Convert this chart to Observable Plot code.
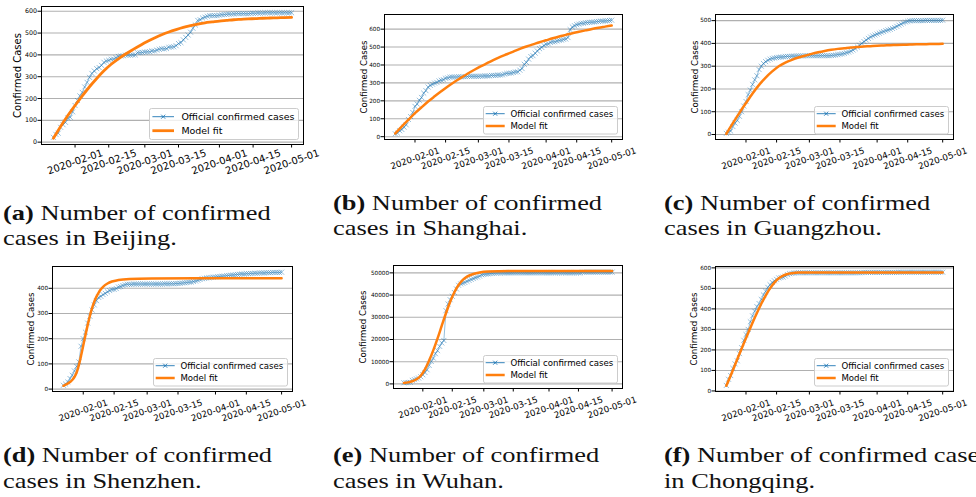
<!DOCTYPE html>
<html><head><meta charset="utf-8">
<script src="https://cdn.jsdelivr.net/npm/d3@7"></script>
<script src="https://cdn.jsdelivr.net/npm/@observablehq/plot@0.6"></script>
<style>
html,body{margin:0;padding:0;background:#fff;}
#page{position:relative;width:976px;height:497px;overflow:hidden;background:#fff;}
.cap{position:absolute;font-family:"Liberation Serif",serif;font-size:22px;line-height:25.5px;white-space:nowrap;transform:scaleX(1.2);transform-origin:0 0;color:#111;}
.cap b{font-weight:bold;}
</style></head><body><div id="page"></div>
<script>
// ---- categories ----
const startDay = "2020-01-23";
const endDay = "2020-05-01";
const xTickLabels = ["2020-02-01","2020-02-15","2020-03-01","2020-03-15","2020-04-01","2020-04-15","2020-05-01"];
const seriesNames = ["Official confirmed cases", "Model fit"];

// ---- official confirmed cases (daily, 2020-01-23 .. 2020-05-01) ----
const beijingOfficial = [22,36,41,68,80,91,111,114,139,
 168,191,212,228,253,274,297,315,326,337,342,352,366,372,375,380,381,387,393,395,396,399,399,399,400,400,410,410,411,
 413,414,414,418,418,422,426,428,428,429,435,436,437,442,452,456,469,480,491,504,522,537,558,561,569,573,577,580,580,580,580,
 582,584,585,586,587,587,588,589,589,589,589,589,589,590,591,591,592,592,592,593,593,593,593,593,593,593,593,593,593,593,
 593];
const shanghaiOfficial = [16,20,33,40,53,66,96,112,135,
 169,182,203,219,243,257,277,286,293,299,303,311,315,318,326,328,332,333,333,333,334,334,335,335,336,337,337,337,337,
 337,338,338,339,339,339,342,342,342,344,344,345,350,353,353,355,358,361,362,371,380,404,414,433,447,452,466,478,491,498,509,
 516,518,526,529,530,534,537,539,543,545,553,597,612,619,625,628,632,633,636,637,638,639,640,642,643,645,645,646,647,648,
 650];
const guangzhouOfficial = [5,10,15,35,50,62,80,100,125,
 145,175,195,220,240,258,285,300,312,320,326,331,334,336,338,339,340,341,342,343,343,344,344,345,345,345,345,346,346,
 346,346,346,346,346,346,346,346,346,346,347,348,349,351,352,354,356,359,362,366,371,377,384,392,400,408,415,422,428,433,437,
 441,445,449,452,456,459,462,466,470,475,480,485,490,494,497,499,500,500,500,500,500,500,501,501,501,501,501,501,501,501,
 502];
const shenzhenOfficial = [15,20,28,42,55,72,90,108,170,
 200,226,262,289,314,334,351,364,368,375,380,386,391,395,396,399,405,407,411,414,416,416,416,417,417,417,417,417,417,
 417,417,417,417,417,417,417,417,418,418,418,418,418,419,419,420,421,422,423,424,425,427,429,432,435,438,440,441,442,443,444,
 445,446,447,448,449,450,451,452,453,454,455,456,457,457,458,458,459,459,460,460,461,461,461,462,462,462,463,463,463,463,
 464];
const wuhanOfficial = [495,572,618,698,1590,1905,2261,2639,3215,
 4109,5142,6384,8351,10117,11618,13603,14982,16902,18454,19558,32994,35991,37914,39462,41152,42752,44412,45027,45346,45660,46201,46607,47071,47441,47824,48137,48557,49122,
 49315,49426,49540,49671,49797,49871,49912,49948,49965,49978,49986,49991,49995,49999,50003,50004,50005,50005,50005,50005,50005,50006,50006,50006,50006,50006,50006,50006,50006,50006,50007,
 50007,50007,50007,50007,50007,50007,50007,50007,50007,50007,50007,50007,50007,50007,50007,50007,50333,50333,50333,50333,50333,50333,50333,50333,50333,50333,50333,50333,50333,50333,
 50333];
const chongqingOfficial = [27,57,75,110,132,147,182,211,247,
 275,300,337,366,389,411,426,446,468,486,505,518,529,537,544,551,553,555,560,567,572,573,575,576,576,576,576,576,576,
 576,576,576,576,576,576,576,576,576,576,576,576,576,576,576,576,576,576,576,576,576,576,576,576,577,578,578,578,578,578,578,
 578,578,578,578,578,578,578,578,578,578,579,579,579,579,579,579,579,579,579,579,579,579,579,579,579,579,579,579,579,579,
 579];

// ---- model fit (day offset from 2020-01-23, value) ----
const beijingFitDays = [0,3,6,9,12,15,18,21,24,27,30,33,36,39,42,45,48,51,54,57,60,63,66,69,72,75,78,81,84,87,90,93,96,99];
const beijingFit = [18,72,122,168,212,254,292,327,357,382,404,424,443,461,477,492,505,516,526,534,541,547,551,555,558,561,563,565,566,568,569,570,571,572];
const shanghaiFitDays = [0,3,6,9,12,15,18,21,24,27,30,33,36,39,42,45,48,51,54,57,60,63,66,69,72,75,78,81,84,87,90,93,96,99];
const shanghaiFit = [18,58,95,131,164,196,225,253,280,305,328,351,372,392,410,428,445,460,475,490,503,515,527,538,549,559,568,577,585,593,601,608,614,620];
const guangzhouFitDays = [0,3,6,9,12,15,18,21,24,27,30,33,36,39,42,45,48,51,54,57,60,63,66,69,72,75,78,81,84,87,90,93,96,99];
const guangzhouFit = [3,50,95,138,180,218,250,277,300,316,328,338,346,354,361,367,372,376,379,382,384,386,388,390,391,392,393,394,395,396,396,397,397,398];
const shenzhenFitDays = [0,2,4,5,6,7,8,9,10,11,12,13,14,15,16,17,18,20,22,25,30,40,60,99];
const shenzhenFit = [13,22,36,48,66,95,132,173,214,254,290,321,347,367,383,396,406,419,427,433,437,439,440,440];
const wuhanFitDays = [0,2,4,6,8,10,12,14,16,18,20,22,24,26,28,30,33,36,40,50,70,99];
const wuhanFit = [450,700,1200,2100,3700,6500,10500,15200,20500,26200,31800,37000,41300,44500,46800,48300,49500,50200,50600,50800,50800,50800];
const chongqingFitDays = [0,2,4,6,8,10,12,14,16,18,20,22,24,26,28,30,33,40,60,99];
const chongqingFit = [25,75,128,180,232,283,333,380,425,465,500,528,549,562,570,574,577,578,578,578];

// ---- y tick labels ----
const yTicks600 = [0,100,200,300,400,500,600];
const yTicks500 = [0,100,200,300,400,500];
const yTicks400 = [0,100,200,300,400];
const yTicksWuhan = [0,10000,20000,30000,40000,50000];

// ---- captions ----
const captionLabels = ["(a)","(b)","(c)","(d)","(e)","(f)"];
const captionLines = [
  ["Number of confirmed","cases in Beijing."],
  ["Number of confirmed","cases in Shanghai."],
  ["Number of confirmed","cases in Guangzhou."],
  ["Number of confirmed","cases in Shenzhen."],
  ["Number of confirmed","cases in Wuhan."],
  ["Number of confirmed cases","in Chongqing."]
];

// ---- build ----
const parse = d3.utcParse("%Y-%m-%d");
const fmtDate = d3.utcFormat("%Y-%m-%d");
const t0 = parse(startDay), t1 = parse(endDay);
const dates = d3.utcDay.range(t0, d3.utcDay.offset(t1, 1));
const xTicks = xTickLabels.map(parse);

const legendBig = {w:150, h:32, r1:8.7, r2:22.7, h0:3.4, h1:25, tx:32.4, fs:9.45};
const legendStd = {w:135, h:28.5, r1:7.7, r2:20, h0:2.7, h1:21.7, tx:27.4, fs:8.6};

const panels = [
  {official: beijingOfficial, fitDays: beijingFitDays, fit: beijingFit, yTicks: yTicks600,
   cell:[0,0,325,185], frame:[41,303,6,144], ylabX:17, yfs:6.3, xfs:10, xdy:17.5, labfs:10, lw:2.8, leg:legendBig,
   cap:[3,199.8]},
  {official: shanghaiOfficial, fitDays: shanghaiFitDays, fit: shanghaiFit, yTicks: yTicks600,
   cell:[325,0,330,185], frame:[384,622,14,139], ylabX:363.5, yfs:5.7, xfs:8.8, xdy:19, labfs:8.6, lw:2.5, leg:legendStd,
   cap:[333,189.8]},
  {official: guangzhouOfficial, fitDays: guangzhouFitDays, fit: guangzhouFit, yTicks: yTicks500,
   cell:[655,0,321,185], frame:[715,953,14,139], ylabX:694.5, yfs:5.7, xfs:8.8, xdy:19, labfs:8.6, lw:2.5, leg:legendStd,
   cap:[664,189.8]},
  {official: shenzhenOfficial, fitDays: shenzhenFitDays, fit: shenzhenFit, yTicks: yTicks400,
   cell:[0,252,325,185], frame:[52,292,266,391], ylabX:30.5, yfs:5.7, xfs:8.8, xdy:19, labfs:8.6, lw:2.5, leg:legendStd,
   cap:[3,442]},
  {official: wuhanOfficial, fitDays: wuhanFitDays, fit: wuhanFit, yTicks: yTicksWuhan,
   cell:[325,252,330,185], frame:[393,622,265,388], ylabX:362.5, yfs:5.7, xfs:8.8, xdy:19, labfs:8.6, lw:2.5, leg:legendStd,
   cap:[333,442]},
  {official: chongqingOfficial, fitDays: chongqingFitDays, fit: chongqingFit, yTicks: yTicks600,
   cell:[655,252,321,185], frame:[715,953,266,391], ylabX:694, yfs:5.7, xfs:8.8, xdy:19, labfs:8.6, lw:2.5, leg:legendStd,
   cap:[664,442]}
];

const page = document.getElementById("page");
const BLUE = "#1f77b4", ORANGE = "#ff7f0e";

panels.forEach((p, idx) => {
  const data = dates.map((d, i) => ({date: d, value: p.official[i]}));
  const fit = p.fitDays.map((k, i) => ({date: d3.utcDay.offset(t0, k), value: p.fit[i]}));
  const all = p.official.concat(p.fit);
  const vmin = d3.min(all), vmax = d3.max(all), vp = 0.05 * (vmax - vmin);
  const tp = 0.05 * (dates[dates.length - 1] - dates[0]);
  const xDomain = [new Date(+dates[0] - tp), new Date(+dates[dates.length - 1] + tp)];
  const [cx, cy, cw, ch] = p.cell;
  const [L, R, T, B] = p.frame;
  const svg = Plot.plot({
    width: cw, height: ch,
    marginLeft: L - cx, marginRight: cx + cw - R, marginTop: T - cy, marginBottom: cy + ch - B,
    x: {type: "utc", domain: xDomain, axis: null},
    y: {domain: [vmin - vp, vmax + vp], axis: null},
    style: {fontFamily: "DejaVu Sans", background: "transparent", overflow: "visible", color: "#000"},
    marks: [
      Plot.ruleY(p.yTicks, {stroke: "#b0b0b0", strokeWidth: 1.1}),
      Plot.line(data, {x: "date", y: "value", stroke: BLUE, strokeWidth: 0.6, strokeOpacity: 0.8}),
      Plot.dot(data, {x: "date", y: "value", symbol: "times", r: 2.4, stroke: BLUE, strokeWidth: 0.6, strokeOpacity: 0.8}),
      Plot.line(fit, {x: "date", y: "value", stroke: ORANGE, strokeWidth: p.lw, curve: "monotone-x"}),
      Plot.frame({stroke: "#000", strokeWidth: 1}),
      Plot.axisY({ticks: p.yTicks, tickFormat: d => String(d), tickSize: 3.5, tickPadding: 1, fontSize: p.yfs, label: null}),
      Plot.axisX({ticks: xTicks, tickFormat: () => "", tickSize: 3.5, label: null}),
      Plot.text(xTicks, {x: d => d, text: d => fmtDate(d), frameAnchor: "bottom", dy: p.xdy, rotate: -19,
        fontSize: p.xfs, textAnchor: "middle", lineAnchor: "middle", fill: "#000"}),
      Plot.text(["Confirmed Cases"], {frameAnchor: "left", dx: p.ylabX - L, rotate: -90, fontSize: p.labfs,
        textAnchor: "middle", lineAnchor: "middle", fill: "#000"})
    ]
  });
  svg.style.position = "absolute";
  svg.style.left = cx + "px";
  svg.style.top = cy + "px";
  svg.style.maxWidth = "none";
  page.appendChild(svg);

  // legend
  const g = p.leg;
  const lx = R - 4.5 - g.w, ly = B - 4.5 - g.h;
  const ls = d3.create("svg").attr("width", g.w).attr("height", g.h)
    .style("position", "absolute").style("left", lx + "px").style("top", ly + "px").style("overflow", "visible");
  ls.append("rect").attr("x", 0.5).attr("y", 0.5).attr("width", g.w - 1).attr("height", g.h - 1).attr("rx", 2)
    .attr("fill", "#fff").attr("fill-opacity", 0.8).attr("stroke", "#cccccc").attr("stroke-width", 1);
  ls.append("line").attr("x1", g.h0).attr("x2", g.h1).attr("y1", g.r1).attr("y2", g.r1)
    .attr("stroke", BLUE).attr("stroke-width", 0.9);
  const mx = (g.h0 + g.h1) / 2, ms = 2;
  ls.append("path").attr("d", `M${mx-ms},${g.r1-ms}L${mx+ms},${g.r1+ms}M${mx-ms},${g.r1+ms}L${mx+ms},${g.r1-ms}`)
    .attr("stroke", BLUE).attr("stroke-width", 0.9);
  ls.append("line").attr("x1", g.h0).attr("x2", g.h1).attr("y1", g.r2).attr("y2", g.r2)
    .attr("stroke", ORANGE).attr("stroke-width", p.lw);
  [[seriesNames[0], g.r1], [seriesNames[1], g.r2]].forEach(([t, y]) => {
    ls.append("text").attr("x", g.tx).attr("y", y).attr("dy", "0.35em").attr("font-family", "DejaVu Sans")
      .attr("font-size", g.fs).attr("fill", "#000").text(t);
  });
  page.appendChild(ls.node());

  // caption
  const cap = document.createElement("div");
  cap.className = "cap";
  cap.style.left = p.cap[0] + "px";
  cap.style.top = p.cap[1] + "px";
  const b = document.createElement("b");
  b.textContent = captionLabels[idx];
  cap.appendChild(b);
  cap.appendChild(document.createTextNode(" " + captionLines[idx][0]));
  cap.appendChild(document.createElement("br"));
  cap.appendChild(document.createTextNode(captionLines[idx][1]));
  page.appendChild(cap);
});
</script></body></html>
